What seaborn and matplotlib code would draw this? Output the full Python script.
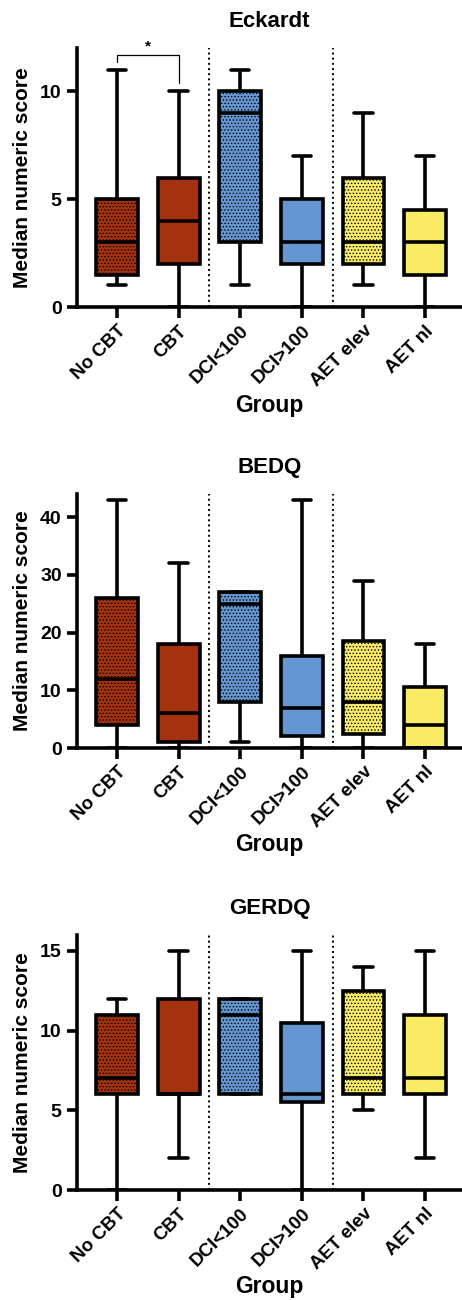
import pandas as pd
import matplotlib
matplotlib.use("Agg")
import matplotlib.pyplot as plt
import seaborn as sns

# groups and colours
groups = ["No CBT", "CBT", "DCI<100", "DCI>100", "AET elev", "AET nl"]
colors = ["#A5320F", "#A5320F", "#6496D2", "#6496D2", "#FAEB64", "#FAEB64"]
dotted = [True, False, True, False, True, False]

# five-number summaries: min, q1, median, q3, max
eck_stats = [
    [1, 1.5, 3, 5, 11],
    [0, 2, 4, 6, 10],
    [1, 3, 9, 10, 11],
    [0, 2, 3, 5, 7],
    [1, 2, 3, 6, 9],
    [0, 1.5, 3, 4.5, 7],
]
bedq_stats = [
    [0, 4, 12, 26, 43],
    [0, 1, 6, 18, 32],
    [1, 8, 25, 27, 27],
    [0, 2, 7, 16, 43],
    [0, 2.5, 8, 18.5, 29],
    [0, 0, 4, 10.5, 18],
]
gerdq_stats = [
    [0, 6, 7, 11, 12],
    [2, 6, 6, 12, 15],
    [6, 6, 11, 12, 12],
    [0, 5.5, 6, 10.5, 15],
    [5, 6, 7, 12.5, 14],
    [2, 6, 7, 11, 15],
]

panels = [
    ("Eckardt", eck_stats, 12, [0, 5, 10]),
    ("BEDQ", bedq_stats, 44, [0, 10, 20, 30, 40]),
    ("GERDQ", gerdq_stats, 16, [0, 5, 10, 15]),
]

sns.set_theme(style="ticks")
plt.rcParams["font.family"] = ["Liberation Sans", "DejaVu Sans"]
plt.rcParams["font.weight"] = "bold"
plt.rcParams["axes.labelweight"] = "bold"
plt.rcParams["axes.titleweight"] = "bold"
plt.rcParams["text.color"] = "black"
plt.rcParams["axes.labelcolor"] = "black"
plt.rcParams["xtick.color"] = "black"
plt.rcParams["ytick.color"] = "black"
plt.rcParams["axes.edgecolor"] = "black"
plt.rcParams["hatch.linewidth"] = 0.6
plt.rcParams["hatch.color"] = "black"

fig = plt.figure(figsize=(4.62, 13), dpi=100)
rects = [
    [0.1667, 0.7638, 0.8333, 0.1992],
    [0.1667, 0.4246, 0.8333, 0.1954],
    [0.1667, 0.0846, 0.8333, 0.1962],
]

for (title, stats, ymax, yticks), rect in zip(panels, rects):
    ax = fig.add_axes(rect)
    rows = []
    for g, s in zip(groups, stats):
        for v in s:
            rows.append({"group": g, "score": v})
    df = pd.DataFrame(rows)

    sns.boxplot(data=df, x="group", y="score", hue="group", order=groups,
                hue_order=groups, palette=colors, saturation=1, whis=(0, 100),
                width=0.68, linewidth=2.6, linecolor="black", legend=False,
                dodge=False, capwidths=0.3, ax=ax)
    for patch, d in zip(ax.patches, dotted):
        if d:
            patch.set_hatch(".....")

    ax.axvline(1.5, color="black", ls=":", lw=1.4)
    ax.axvline(3.5, color="black", ls=":", lw=1.4)

    ax.set_xlim(-0.65, 5.6)
    ax.set_ylim(0, ymax)
    ax.set_yticks(yticks)
    ax.set_title(title, fontsize=16, pad=15)
    ax.set_ylabel("Median numeric score", fontsize=15)
    ax.set_xlabel("Group", fontsize=16.5)
    ax.yaxis.set_label_coords(-0.118, 0.5)
    ax.xaxis.set_label_coords(0.5, -0.335)

    ax.tick_params(axis="both", direction="out", width=2.6, length=7,
                   labelsize=14, pad=4)
    ax.tick_params(axis="x", length=8, pad=3, labelsize=13.5)
    ax.set_xticks(range(len(groups)))
    ax.set_xticklabels(groups, rotation=45, ha="right", rotation_mode="anchor",
                       fontweight="bold")
    for lab in ax.get_yticklabels():
        lab.set_fontweight("bold")

    sns.despine(ax=ax)
    ax.spines["left"].set_linewidth(2.6)
    ax.spines["bottom"].set_linewidth(2.6)

    if title == "Eckardt":
        ax.plot([0, 0, 1, 1], [11.35, 11.7, 11.7, 10.4], color="black", lw=0.9)
        ax.text(0.5, 11.75, "*", ha="center", va="bottom", fontsize=11)

fig.savefig("out.png", dpi=100)
